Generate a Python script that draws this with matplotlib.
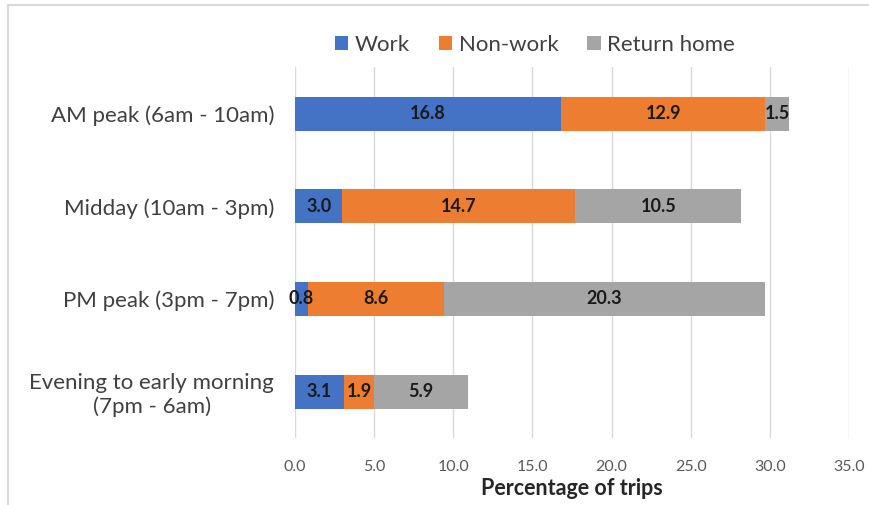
import matplotlib
matplotlib.use("Agg")
import matplotlib.pyplot as plt
import numpy as np

plt.rcParams['font.family'] = ['Lato', 'DejaVu Sans']

periods = ["AM peak (6am - 10am)", "Midday (10am - 3pm)", "PM peak (3pm - 7pm)",
           "Evening to early morning\n(7pm - 6am)"]
work = [16.8, 3.0, 0.8, 3.1]
non_work = [12.9, 14.7, 8.6, 1.9]
return_home = [1.5, 10.5, 20.3, 5.9]
series_names = ["Work", "Non-work", "Return home"]
colors = ["#4472C4", "#ED7D31", "#A5A5A5"]
x_ticks = [0, 5, 10, 15, 20, 25, 30, 35]

fig = plt.figure(figsize=(8.7, 5.05), dpi=100)
# light frame around the chart area
fig.add_artist(plt.Line2D([0.009, 0.009], [0, 0.99], color="#D9D9D9", lw=1.5, transform=fig.transFigure))
fig.add_artist(plt.Line2D([0.009, 1.0], [0.99, 0.99], color="#D9D9D9", lw=1.5, transform=fig.transFigure))

ax = fig.add_axes([0.339, 0.1327, 0.637, 0.734])
y = np.arange(len(periods))
left = np.zeros(len(periods))
for vals, name, c in zip([work, non_work, return_home], series_names, colors):
    bars = ax.barh(y, vals, left=left, height=0.37, color=c, label=name, zorder=3)
    for rect, v in zip(bars, vals):
        cx = rect.get_x() + rect.get_width() / 2
        ax.text(cx, rect.get_y() + rect.get_height() / 2, f"{v:.1f}", ha="center", va="center",
                fontsize=13, fontweight="bold", color="#1a1a1a", zorder=4)
    left += np.array(vals)

ax.set_ylim(len(periods) - 0.5, -0.5)
ax.set_yticks(y)
ax.set_yticklabels(periods, fontsize=16, color="#404040", multialignment="center")
ax.set_xlim(0, 35)
ax.set_xticks(x_ticks)
ax.set_xticklabels([f"{t:.1f}" for t in x_ticks], fontsize=11.5, color="#595959")
ax.tick_params(axis="y", length=0, pad=15)
ax.tick_params(axis="x", length=0, pad=16)
ax.grid(axis="x", color="#D9D9D9", lw=1, zorder=0)
for s in ax.spines.values():
    s.set_visible(False)
ax.set_xlabel("Percentage of trips", fontsize=15.5, fontweight="bold", color="#262626", labelpad=3)

ax.legend(loc="center", bbox_to_anchor=(0.433, 1.06), ncol=3, frameon=False,
          fontsize=16, handlelength=0.6, handleheight=0.6, handletextpad=0.3,
          columnspacing=1.3, labelcolor="#404040")

fig.savefig("out.png", dpi=100)
